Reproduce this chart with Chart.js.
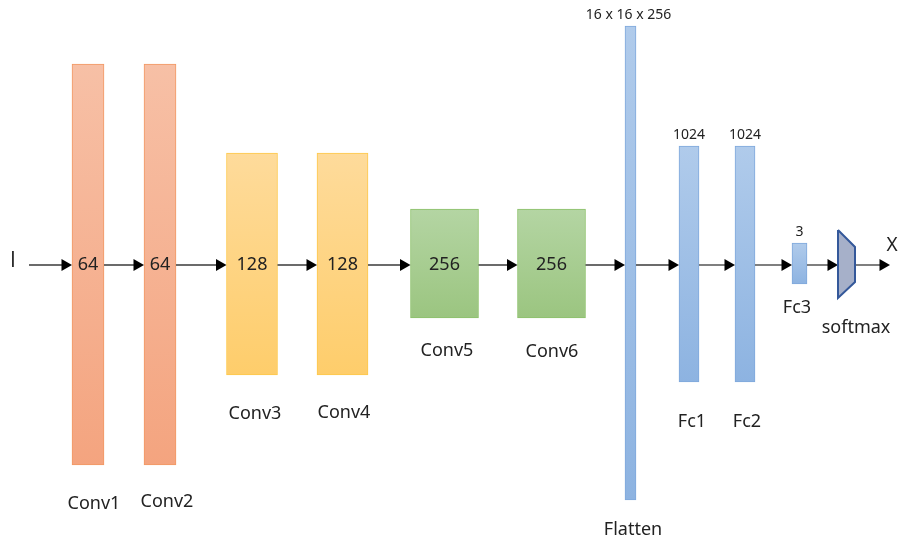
<!DOCTYPE html>
<html>
<head>
<meta charset="utf-8">
<script src="https://cdn.jsdelivr.net/npm/chart.js@4/dist/chart.umd.min.js"></script>
<style>
  html, body { margin: 0; padding: 0; background: #fff; }
  #wrap { width: 902px; height: 548px; }
</style>
</head>
<body>
<div id="wrap"><canvas id="myChart" width="902" height="548"></canvas></div>
<script>
// layers of the network
const layerNames = ["Conv1", "Conv2", "Conv3", "Conv4", "Conv5", "Conv6", "Flatten", "Fc1", "Fc2", "Fc3"];
const layerUnits = ["64", "64", "128", "128", "256", "256", "16 x 16 x 256", "1024", "1024", "3"];
const layerX = [88, 160, 252, 342.5, 444.5, 551.5, 630.5, 689, 745, 799.5];
const layerTop = [64, 64, 153, 153, 209, 209, 26, 146, 146, 243];
const layerBottom = [465, 465, 375, 375, 318, 318, 500, 382, 382, 284];

// label positions (names under the layers)
const nameX = [94, 167, 255, 344, 447, 552, 633, 692, 747, 797];
const nameY = [504, 502, 414, 413, 351, 352, 530, 422, 422, 308];

// softmax block
const softmaxX = [838, 855, 855, 838, 838];
const softmaxY = [230, 247, 282, 298, 230];

// main data flow line
const flowY = 265;
const inputX = 29;
const outputX = 890;

// styles
const layerWidth = [32, 32, 51, 51, 68, 68, 11, 20, 20, 15];
const layerGroup = [0, 0, 1, 1, 2, 2, 3, 3, 3, 3];
const groupTop = ["#f7c0a6", "#fedb9b", "#b4d5a3", "#b0cbeb"];
const groupBottom = ["#f4a47f", "#fecd6b", "#9bc580", "#8db3e1"];
const groupBorder = ["#f29863", "#fec84a", "#8cc16a", "#7fa8dc"];

const datasets = [];

// 各レイヤーの箱
layerNames.forEach((name, i) => {
  const g = layerGroup[i];
  datasets.push({
    type: "bar",
    label: name,
    stack: "layers",
    data: [{ x: layerX[i], y: [layerTop[i], layerBottom[i]] }],
    barThickness: layerWidth[i],
    borderWidth: 1,
    borderSkipped: false,
    borderColor: groupBorder[g],
    backgroundColor: (c) => {
      const chart = c.chart;
      if (!chart.chartArea) return groupTop[g];
      const y = chart.scales.y;
      const grad = chart.ctx.createLinearGradient(0, y.getPixelForValue(layerTop[i]), 0, y.getPixelForValue(layerBottom[i]));
      grad.addColorStop(0, groupTop[g]);
      grad.addColorStop(1, groupBottom[g]);
      return grad;
    },
    order: 2,
  });
});

// 矢印 (layer edges)
const starts = [inputX];
const ends = [];
layerNames.forEach((n, i) => {
  ends.push(layerX[i] - layerWidth[i] / 2);
  starts.push(layerX[i] + layerWidth[i] / 2);
});
ends.push(softmaxX[0]);
starts.push(softmaxX[1]);
ends.push(outputX);

const headR = 7;
for (let i = 0; i < starts.length; i++) {
  datasets.push({
    type: "line",
    data: [{ x: starts[i], y: flowY }, { x: ends[i] - headR, y: flowY }],
    borderColor: "#3a3a3a",
    borderWidth: 1.3,
    pointRadius: [0, headR],
    pointStyle: "triangle",
    pointRotation: 90,
    pointBackgroundColor: "#000",
    pointBorderWidth: 0,
    clip: false,
    order: 1,
  });
}

// softmax
datasets.push({
  type: "line",
  data: softmaxX.map((x, i) => ({ x: x, y: softmaxY[i] })),
  borderColor: "#34589a",
  borderWidth: 2,
  backgroundColor: "#a6b0c9",
  fill: "shape",
  tension: 0,
  pointRadius: 0,
  order: 0,
});

// テキスト
const textPlugin = {
  id: "texts",
  afterDatasetsDraw(chart) {
    const { ctx, scales: { x, y } } = chart;
    const put = (t, px, py, size, fam) => {
      ctx.font = size + "px " + (fam || "'Noto Sans', sans-serif");
      ctx.fillText(t, x.getPixelForValue(px), y.getPixelForValue(py));
    };
    ctx.save();
    ctx.fillStyle = "#222";
    ctx.textAlign = "center";
    ctx.textBaseline = "middle";
    layerNames.forEach((name, i) => {
      put(name, nameX[i], nameY[i], 18);
      if (i < 6) {
        put(layerUnits[i], layerX[i], flowY, 18);
      } else {
        put(layerUnits[i], layerX[i] - (i === 6 ? 2 : 0), layerTop[i] - 11, 14);
      }
    });
    put("I", 13, 261, 21, "'Open Sans', sans-serif");
    put("X", 892, 246, 19);
    put("softmax", 856, 328, 18);
    ctx.restore();
  },
};

const myChart = new Chart(document.getElementById("myChart").getContext("2d"), {
  type: "bar",
  data: { datasets: datasets },
  options: {
    responsive: false,
    animation: false,
    layout: { padding: 0, autoPadding: false },
    plugins: { legend: { display: false }, tooltip: { enabled: false } },
    scales: {
      x: { type: "linear", min: 0, max: 902, offset: false, display: false },
      y: { type: "linear", min: 0, max: 548, reverse: true, stacked: false, display: false },
    },
  },
  plugins: [textPlugin],
});
</script>
</body>
</html>
